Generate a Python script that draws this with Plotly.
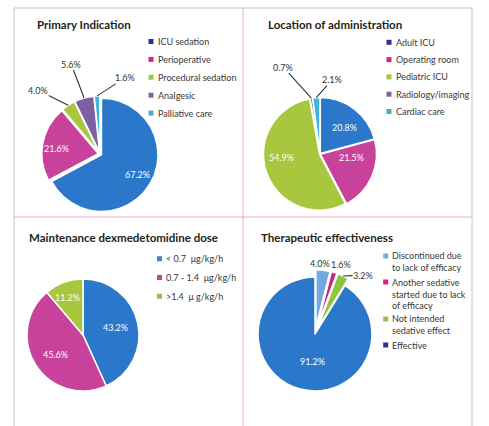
import math
import plotly.graph_objects as go

W, H = 489, 426

# ---------------- data ----------------
ind_labels = ["ICU sedation", "Perioperative", "Procedural sedation", "Analgesic", "Palliative care"]
ind_values = [67.2, 21.6, 4.0, 5.6, 1.6]

loc_labels = ["Adult ICU", "Operating room", "Pediatric ICU", "Radiology/imaging", "Cardiac care"]
loc_values = [20.8, 21.5, 54.9, 0.7, 2.1]

dose_labels = ["<\u00a00.7\u00a0\u00a0μg/kg/h", "0.7\u00a0-\u00a01.4\u00a0\u00a0μg/kg/h", ">1.4\u00a0\u00a0μ\u00a0g/kg/h"]
dose_values = [43.2, 45.6, 11.2]

eff_labels = ["Discontinued due<br>to lack of efficacy",
              "Another sedative<br>started due to lack<br>of efficacy",
              "Not intended<br>sedative effect",
              "Effective"]
eff_values = [4.0, 1.6, 3.2, 91.2]

titles = ["Primary Indication", "Location of administration",
          "Maintenance dexmedetomidine dose", "Therapeutic effectiveness"]

# ---------------- styles ----------------
FONT = "Lato, Roboto, Liberation Sans, Arial, sans-serif"
BLUE = "#2b77c9"
PINK = "#c8419a"
GREEN = "#a8c63e"
PURPLE = "#7d5fa6"
CYAN = "#40b4da"
LBLUE = "#72a9de"
L_NAVY = "#2e3192"
L_MAG = "#d6257f"
L_GREEN = "#a2c84a"
L_PURP = "#8064a2"
L_AQUA = "#4bacc6"

panels = [
    dict(labels=ind_labels, values=ind_values, title=titles[0], title_xy=(35, 25),
         cx=100, cy=154, r=56.5, pull=[0.03, 0.03, 0.03, 0.03, 0.03],
         slice_colors=[BLUE, PINK, GREEN, PURPLE, CYAN],
         legend_colors=[L_NAVY, L_MAG, L_GREEN, L_PURP, L_AQUA],
         legend_x=151, legend_y0=41.5, line_h=11.0, gap=6.9,
         spec=[("in", 0.73, -2), ("in", 0.74, -3), ("out", -30, -15, True),
               ("out", -13, -34, True), ("out", 28, -18, True)]),
    dict(labels=loc_labels, values=loc_values, title=titles[1], title_xy=(266, 25),
         cx=320, cy=154, r=56, pull=[0.01, 0.01, 0.01, 0.01, 0.01],
         slice_colors=[BLUE, PINK, GREEN, PURPLE, CYAN],
         legend_colors=[L_NAVY, L_MAG, L_GREEN, L_PURP, L_AQUA],
         legend_x=389, legend_y0=42.3, line_h=11.0, gap=6.3,
         spec=[("in", 0.64, 6), ("in", 0.56, -18), ("in", 0.68, 14),
               ("out", -28, -31, True), ("out", 16, -18, True)]),
    dict(labels=dose_labels, values=dose_values, title=titles[2], title_xy=(27, 238),
         cx=83, cy=335, r=56, pull=[0.0, 0.0, 0.0],
         slice_colors=[BLUE, PINK, GREEN],
         legend_colors=["#4f81bd", "#c0504d", "#9bbb59"],
         legend_x=159.5, legend_y0=258.7, line_h=11.0, gap=7.8,
         spec=[("in", 0.59, 0), ("in", 0.6, -4), ("in", 0.72, -3)]),
    dict(labels=eff_labels, values=eff_values, title=titles[3], title_xy=(259, 238),
         cx=315, cy=334, r=57, pull=[0.13, 0.13, 0.13, 0.0],
         slice_colors=[LBLUE, "#c8237f", "#8cc63f", BLUE],
         legend_colors=[LBLUE, L_MAG, "#9bbb59", L_NAVY],
         legend_x=385.7, legend_y0=256, line_h=11.0, gap=4.0,
         spec=[("out", -3, -7, False), ("out", 7, -7.5, False), ("out", 20, -1, True),
               ("in", 0.49, -10)]),
]


def X(px):
    return px / W


def Y(py):
    return 1 - py / H


fig = go.Figure()
annotations = []
shapes = []

for p in panels:
    vals = p["values"]
    tot = sum(vals)
    r = p["r"]
    maxpull = max(p["pull"])
    half = r * (1 + maxpull)
    fig.add_trace(go.Pie(
        labels=p["labels"], values=vals, sort=False, direction="clockwise", rotation=0,
        pull=p["pull"], textinfo="none", hoverinfo="label+value", showlegend=False,
        marker=dict(colors=p["slice_colors"], line=dict(color="white", width=1.5)),
        domain=dict(x=[X(p["cx"] - half), X(p["cx"] + half)],
                    y=[Y(p["cy"] + half), Y(p["cy"] - half)]),
    ))

    # percentage labels derived from the slice angles
    cum = 0.0
    for i, v in enumerate(vals):
        mid = (cum + v / 2) / tot * 360.0
        cum += v
        txt = f"{v:.1f}%"
        pl = p["pull"][i] * r
        m = math.radians(mid)
        sx = p["cx"] + pl * math.sin(m)
        sy = p["cy"] - pl * math.cos(m)
        sp = p["spec"][i]
        if sp[0] == "in":
            a = math.radians(mid + sp[2])
            tx = sx + sp[1] * r * math.sin(a)
            ty = sy - sp[1] * r * math.cos(a)
            annotations.append(dict(x=X(tx), y=Y(ty), xref="paper", yref="paper",
                                    xanchor="center", yanchor="middle",
                                    text=txt, showarrow=False,
                                    font=dict(family=FONT, size=9, color="white")))
        else:
            ex = sx + r * math.sin(m)
            ey = sy - r * math.cos(m)
            if sp[3]:
                annotations.append(dict(x=X(ex), y=Y(ey), xref="paper", yref="paper",
                                        text=txt, showarrow=True, ax=sp[1], ay=sp[2],
                                        xanchor="center", yanchor="middle",
                                        arrowhead=0, arrowwidth=1.1, arrowcolor="#333333",
                                        standoff=0, borderpad=0,
                                        font=dict(family=FONT, size=9, color="#333333")))
            else:
                annotations.append(dict(x=X(ex + sp[1]), y=Y(ey + sp[2]), xref="paper",
                                        yref="paper", text=txt, showarrow=False,
                                        xanchor="center", yanchor="middle",
                                        font=dict(family=FONT, size=9, color="#333333")))

    # title
    annotations.append(dict(x=X(p["title_xy"][0]), y=Y(p["title_xy"][1]), xref="paper",
                            yref="paper", xanchor="left", yanchor="middle", showarrow=False,
                            text="<b>" + p["title"] + "</b>",
                            font=dict(family=FONT, size=11.5, color="#231f20")))

    # legend (swatch + text)
    y = p["legend_y0"]
    lh_font = 9 * 1.3
    for lab, col in zip(p["labels"], p["legend_colors"]):
        n = lab.count("<br>") + 1
        s = 5
        shapes.append(dict(type="rect", xref="paper", yref="paper",
                           x0=X(p["legend_x"] - s / 2), x1=X(p["legend_x"] + s / 2),
                           y0=Y(y + s / 2), y1=Y(y - s / 2),
                           fillcolor=col, line=dict(width=0)))
        annotations.append(dict(x=X(p["legend_x"] + 4.5), y=Y(y + (n - 1) * lh_font / 2),
                                xref="paper", yref="paper", xanchor="left", yanchor="middle",
                                align="left", showarrow=False, text=lab,
                                font=dict(family=FONT, size=9, color="#383838")))
        y += n * p["line_h"] + p["gap"]

# panel frame
FRAME = "#c4c2d8"
DIV = "#e8a9d2"
for (x0, y0, x1, y1, c) in [(14, 8, 472, 8, FRAME), (14, 8, 14, 426, FRAME),
                            (472, 8, 472, 426, FRAME), (243, 8, 243, 426, DIV),
                            (14, 217, 472, 217, DIV)]:
    shapes.append(dict(type="line", xref="paper", yref="paper", x0=X(x0), y0=Y(y0),
                       x1=X(x1), y1=Y(y1), line=dict(color=c, width=1)))

fig.update_layout(width=W, height=H, margin=dict(l=0, r=0, t=0, b=0),
                  paper_bgcolor="white", plot_bgcolor="white",
                  annotations=annotations, shapes=shapes)
fig.write_html("out.html")
